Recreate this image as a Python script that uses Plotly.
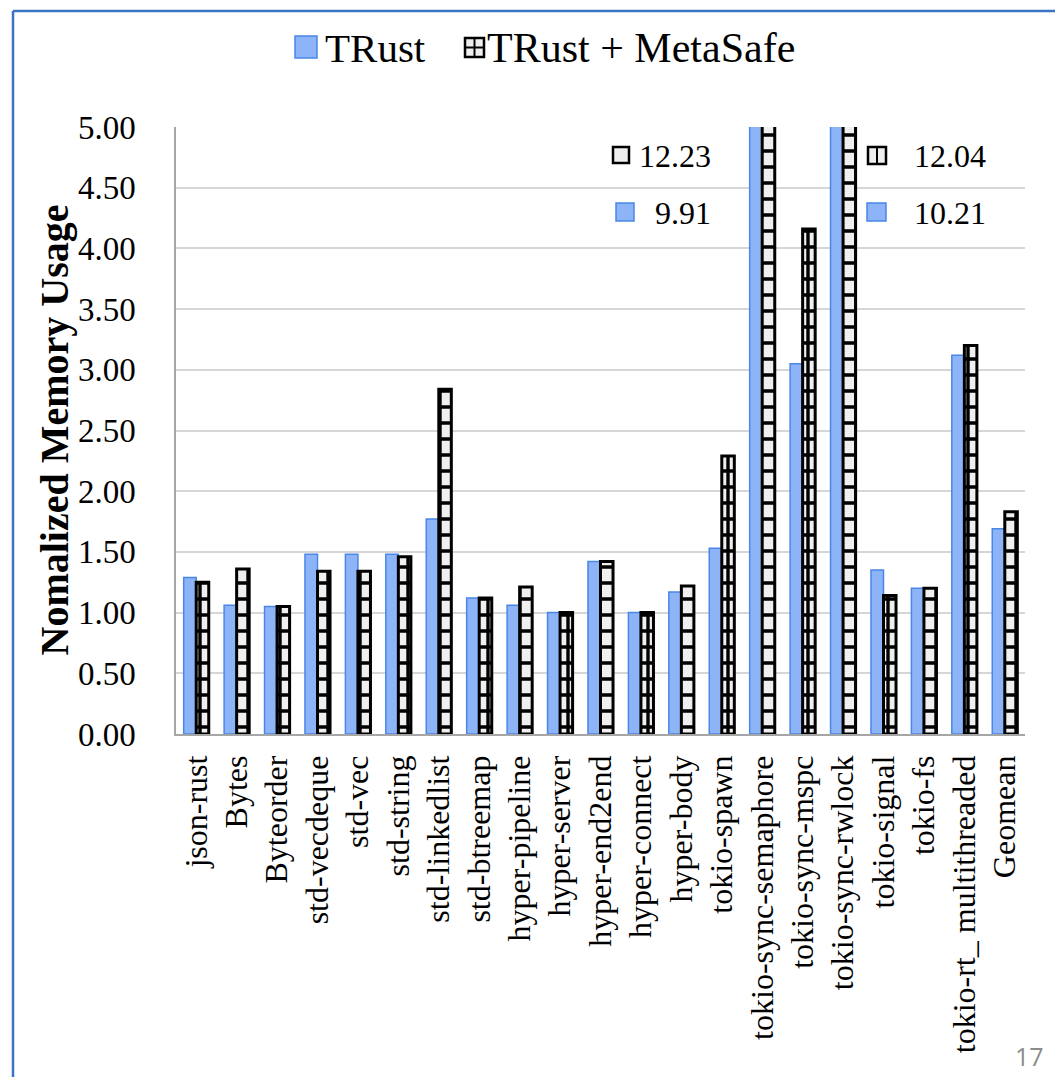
import plotly.graph_objects as go

# Benchmarks and normalized memory usage (TRust baseline vs. TRust + MetaSafe)
categories = [
    "json-rust", "Bytes", "Byteorder", "std-vecdeque", "std-vec", "std-string",
    "std-linkedlist", "std-btreemap", "hyper-pipeline", "hyper-server",
    "hyper-end2end", "hyper-connect", "hyper-body", "tokio-spawn",
    "tokio-sync-semaphore", "tokio-sync-mspc", "tokio-sync-rwlock",
    "tokio-signal", "tokio-fs", "tokio-rt_ multithreaded", "Geomean",
]
trust = [1.29, 1.06, 1.05, 1.48, 1.48, 1.48, 1.77, 1.12, 1.06, 1.00, 1.42,
         1.00, 1.17, 1.53, 9.91, 3.05, 10.21, 1.35, 1.20, 3.12, 1.69]
metasafe = [1.25, 1.36, 1.05, 1.34, 1.34, 1.46, 2.84, 1.12, 1.21, 1.00, 1.42,
            1.00, 1.22, 2.29, 12.23, 4.16, 12.04, 1.14, 1.20, 3.20, 1.83]
y_ticks = [0.0, 0.5, 1.0, 1.5, 2.0, 2.5, 3.0, 3.5, 4.0, 4.5, 5.0]
y_max = 5.0

W, H = 1055, 1077
ML, MR, MT, MB = 176, 30, 127, 343
PW, PH = W - ML - MR, H - MT - MB

SERIF = "Liberation Serif, Times New Roman, serif"
BLUE_FILL = "#8db4f6"
BLUE_LINE = "#4a86e8"
GRID_BG = "#efefef"


def px(x):
    return (x - ML) / PW


def py(y):
    return (H - MB - y) / PH


fig = go.Figure()
fig.add_trace(go.Bar(
    name="TRust", x=categories, y=trust,
    marker=dict(color=BLUE_FILL, line=dict(color=BLUE_LINE, width=1.5)),
))
fig.add_trace(go.Bar(
    name="TRust + MetaSafe", x=categories, y=metasafe,
    marker=dict(
        color=GRID_BG,
        line=dict(color="black", width=3),
        pattern=dict(shape="+", fgcolor="black", bgcolor=GRID_BG,
                     size=16, solidity=0.38, fillmode="replace"),
    ),
))

shapes = []
annotations = []

# slide frame
shapes.append(dict(type="line", xref="paper", yref="paper",
                   x0=px(13), x1=px(1062), y0=py(11), y1=py(11),
                   line=dict(color="#3b74c2", width=2.5)))
shapes.append(dict(type="line", xref="paper", yref="paper",
                   x0=px(13), x1=px(13), y0=py(11), y1=py(1085),
                   line=dict(color="#3b74c2", width=2.5)))


def blue_box(x0, y0, x1, y1):
    shapes.append(dict(type="rect", xref="paper", yref="paper",
                       x0=px(x0), x1=px(x1), y0=py(y0), y1=py(y1),
                       fillcolor=BLUE_FILL, line=dict(color=BLUE_LINE, width=1.5)))


def grid_box(x0, y0, x1, y1, vline=True, hline=True):
    shapes.append(dict(type="rect", xref="paper", yref="paper",
                       x0=px(x0), x1=px(x1), y0=py(y0), y1=py(y1),
                       fillcolor=GRID_BG, line=dict(color="black", width=2.5)))
    if vline:
        xm = (x0 + x1) / 2
        shapes.append(dict(type="line", xref="paper", yref="paper",
                           x0=px(xm), x1=px(xm), y0=py(y0), y1=py(y1),
                           line=dict(color="black", width=2)))
    if hline:
        ym = (y0 + y1) / 2
        shapes.append(dict(type="line", xref="paper", yref="paper",
                           x0=px(x0), x1=px(x1), y0=py(ym), y1=py(ym),
                           line=dict(color="black", width=2)))


def label(text, x, y, size, anchor="left", color="black", family=SERIF):
    annotations.append(dict(text=text, xref="paper", yref="paper",
                            x=px(x), y=py(y), xanchor=anchor, yanchor="middle",
                            showarrow=False,
                            font=dict(family=family, size=size, color=color)))


# legend
blue_box(295, 36, 317, 58)
label("TRust", 323, 48, 41)
grid_box(465, 38, 484, 57)
label("TRust + MetaSafe", 485, 48, 42)

# values of the bars that run past the top of the axis
i_sem = categories.index("tokio-sync-semaphore")
i_rw = categories.index("tokio-sync-rwlock")
grid_box(613, 147, 629, 163, vline=False, hline=False)
label(f"{metasafe[i_sem]:.2f}", 713, 156, 32, anchor="right")
blue_box(616, 203, 634, 221)
label(f"{trust[i_sem]:.2f}", 713, 213, 32, anchor="right")
grid_box(868, 147, 886, 164, hline=False)
label(f"{metasafe[i_rw]:.2f}", 988, 156, 32, anchor="right")
blue_box(867, 203, 886, 221)
label(f"{trust[i_rw]:.2f}", 988, 213, 32, anchor="right")

# y axis title
annotations.append(dict(text="Nomalized Memory Usage", xref="paper", yref="paper",
                        x=px(54), y=0.5, xanchor="center", yanchor="middle",
                        textangle=-90, showarrow=False,
                        font=dict(family=SERIF, size=40, color="black",
                                  weight="bold")))

# slide number
label("17", 1046, 1056, 25, anchor="right", color="#8c8c8c",
      family="Open Sans, Liberation Sans, sans-serif")

fig.update_layout(
    width=W, height=H,
    margin=dict(l=ML, r=MR, t=MT, b=MB),
    paper_bgcolor="white", plot_bgcolor="white",
    barmode="group", bargap=0.38, bargroupgap=0.0,
    showlegend=False,
    shapes=shapes, annotations=annotations,
    xaxis=dict(
        type="category", tickangle=-90, showgrid=False,
        showline=True, linecolor="#a6a6a6", linewidth=1.5,
        ticks="", ticklabelstandoff=7,
        tickfont=dict(family=SERIF, size=32, color="black"),
    ),
    yaxis=dict(
        range=[0, y_max], tickvals=y_ticks, tickformat=".2f",
        showgrid=True, gridcolor="#d6d6d6", gridwidth=1.5,
        showline=True, linecolor="#a6a6a6", linewidth=1.5,
        zeroline=False, ticks="", ticklabelstandoff=32,
        tickfont=dict(family=SERIF, size=33, color="black"),
    ),
)

fig.write_html("out.html")
